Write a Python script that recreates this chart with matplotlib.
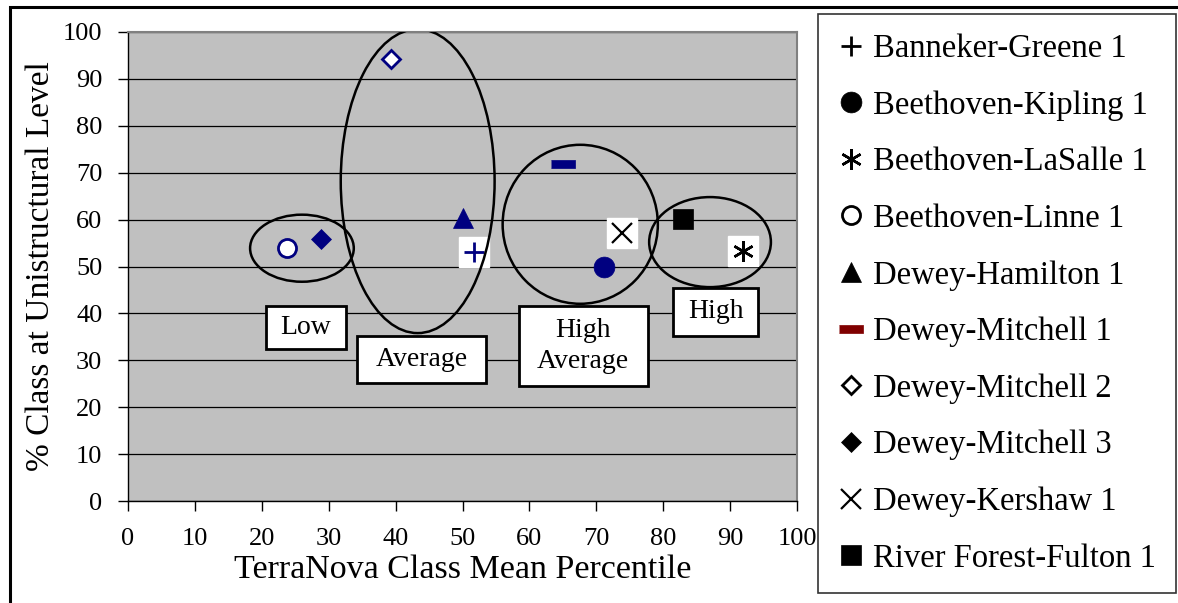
import matplotlib.pyplot as plt
from matplotlib.lines import Line2D
from matplotlib.patches import Ellipse, Rectangle

plt.rcParams["font.family"] = ["Liberation Serif", "DejaVu Serif"]

schools = [
    "Banneker-Greene 1", "Beethoven-Kipling 1", "Beethoven-LaSalle 1",
    "Beethoven-Linne 1", "Dewey-Hamilton 1", "Dewey-Mitchell 1",
    "Dewey-Mitchell 2", "Dewey-Mitchell 3", "Dewey-Kershaw 1",
    "River Forest-Fulton 1",
]
percentile = [51.7, 71.2, 91.9, 23.8, 50.0, 65.0, 39.3, 28.8, 73.9, 83.0]
unistructural = [53.1, 50.0, 53.2, 53.9, 60.3, 71.9, 94.2, 55.8, 57.1, 60.2]

group_names = ["Low", "Average", "High\nAverage", "High"]

NAVY = "#000080"
DASH = [(-3, -1), (3, -1), (3, 1), (-3, 1)]

# marker, face, edge, size, edge width, white backing square, legend colour
styles = [
    ("+", NAVY, NAVY, 14, 2.0, True, "black"),
    ("o", NAVY, NAVY, 15, 0.5, False, "black"),
    ((6, 2, 0), "black", "black", 15, 1.8, True, "black"),
    ("o", "white", NAVY, 13, 2.0, False, "black"),
    ("^", NAVY, NAVY, 14, 0.5, False, "black"),
    (DASH, NAVY, NAVY, 18, 0.5, False, "#800000"),
    ("D", "white", NAVY, 9.5, 2.0, False, "black"),
    ("D", NAVY, NAVY, 10, 0.5, False, "black"),
    ("x", "black", "black", 14, 1.6, True, "black"),
    ("s", "black", "black", 14, 0.5, False, "black"),
]

# ellipse (cx, cy, w, h) and label box (x0, y0, w, h) for each group, data units
ellipses = [(26.0, 53.9, 15.5, 14.3), (43.3, 68.2, 23.0, 64.8),
            (67.6, 59.0, 23.2, 33.9), (87.0, 55.2, 18.2, 19.2)]
boxes = [(20.6, 32.4, 12.0, 9.2), (34.2, 25.2, 19.3, 10.0),
         (58.4, 24.5, 19.3, 17.1), (81.5, 35.2, 12.7, 10.2)]

fig = plt.figure(figsize=(11.78, 6.03), dpi=100)
ax = fig.add_axes([128 / 1178, 1 - 501 / 603, 669 / 1178, 469 / 603])
ax.set_facecolor("#c0c0c0")
ax.set_xlim(0, 100)
ax.set_ylim(0, 100)
ax.set_xticks(range(0, 101, 10))
ax.set_yticks(range(0, 101, 10))
ax.tick_params(direction="out", length=7.5, width=1, labelsize=19, color="black")
ax.tick_params(axis="x", pad=12)
ax.tick_params(axis="y", pad=11)
ax.yaxis.grid(True, color="black", linewidth=0.9)
ax.set_axisbelow(True)
for side in ("top", "right"):
    ax.spines[side].set_color("#808080")
    ax.spines[side].set_linewidth(1.5)
for side in ("left", "bottom"):
    ax.spines[side].set_linewidth(1.0)

ax.set_xlabel("TerraNova Class Mean Percentile", fontsize=24.5, labelpad=3)
ax.set_ylabel("% Class at Unistructural Level", fontsize=24, labelpad=5)

handles = []
for name, x, y, st in zip(schools, percentile, unistructural, styles):
    mk, fc, ec, ms, mew, backing, lc = st
    if backing:
        ax.plot(x, y, marker="s", ms=21.5, mfc="white", mec="white", zorder=3)
    ax.plot(x, y, marker=mk, ms=ms, mfc=fc, mec=ec, mew=mew, ls="none", zorder=4)
    legend_fc = "white" if fc == "white" else lc
    handles.append(Line2D([], [], marker=mk, ms=ms, mfc=legend_fc, mec=lc,
                          mew=mew, ls="none", label=name))

for (cx, cy, w, h) in ellipses:
    ax.add_patch(Ellipse((cx, cy), w, h, fill=False, ec="black", lw=1.8, zorder=5))

for name, (x0, y0, w, h) in zip(group_names, boxes):
    ax.add_patch(Rectangle((x0, y0), w, h, fc="white", ec="black", lw=2.0, zorder=6))
    ax.text(x0 + w / 2, y0 + h / 2, name, ha="center", va="center",
            fontsize=20, linespacing=1.35, zorder=7)

leg = fig.legend(handles=handles, loc="upper left",
                 bbox_to_anchor=(818 / 1178, 1 - 14 / 603), borderaxespad=0,
                 fontsize=23.5, frameon=True, fancybox=False, labelspacing=0.80,
                 handlelength=0.8, handletextpad=0.3, borderpad=0.6)
leg.get_frame().set_edgecolor("black")
leg.get_frame().set_linewidth(1.2)

fig.add_artist(Rectangle((10 / 1178, -0.1), 1.2, 1.1 - 7.5 / 603,
                         transform=fig.transFigure, fill=False, ec="black", lw=2.2))

fig.savefig("out.png", dpi=100)
